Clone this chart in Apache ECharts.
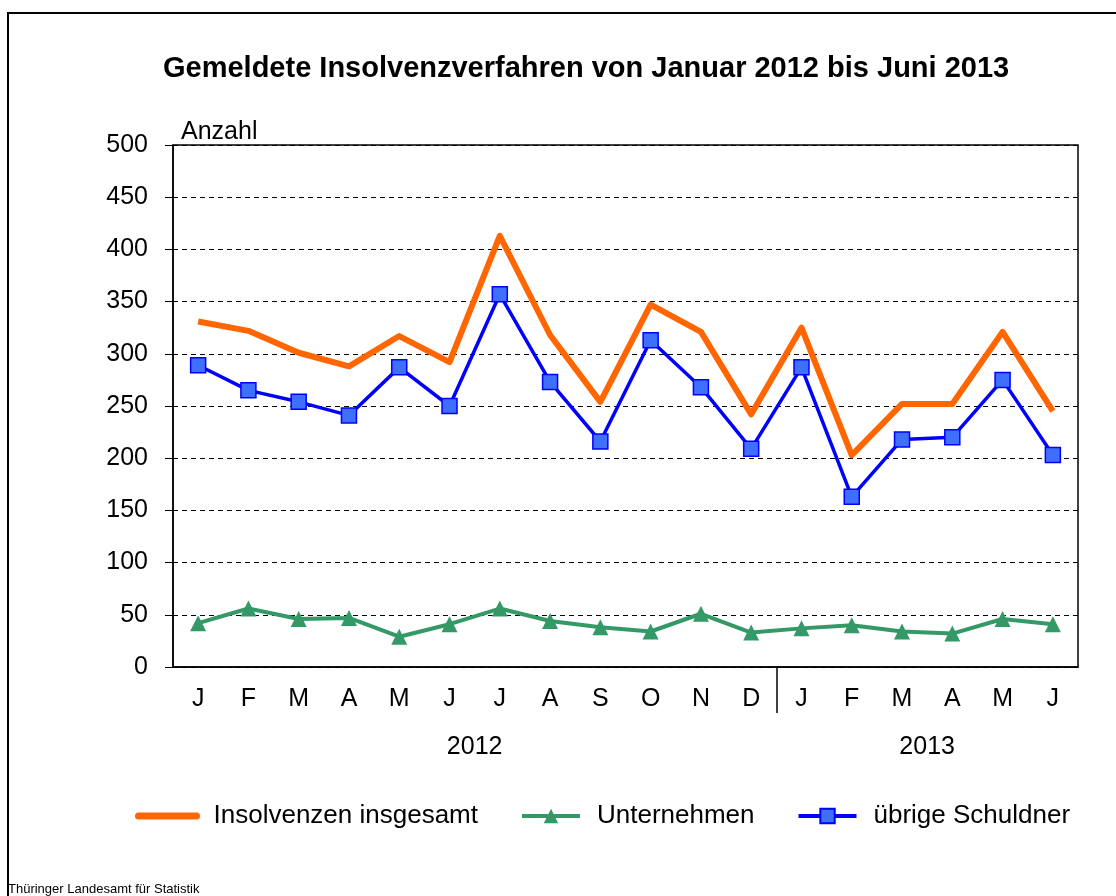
<!DOCTYPE html>
<html>
<head>
<meta charset="utf-8">
<title>Insolvenzverfahren</title>
<script src="https://cdn.jsdelivr.net/npm/echarts@6/dist/echarts.min.js"></script>
<style>
html, body { margin: 0; padding: 0; background: #fff; }
#chart { width: 1116px; height: 896px; }
</style>
</head>
<body>
<div id="chart"></div>
<script type="text/javascript">
// Monate (Jan 2012 - Jun 2013)
var months = ['J', 'F', 'M', 'A', 'M', 'J', 'J', 'A', 'S', 'O', 'N', 'D', 'J', 'F', 'M', 'A', 'M', 'J'];
var years = ['2012', '2013'];
// Werte
var insgesamt = [331, 322, 301, 288, 317, 292, 413, 318, 254, 347, 321, 242, 325, 203, 252, 252, 321, 245];
var unternehmen = [42, 56, 46, 47, 29, 41, 56, 44, 38, 34, 51, 33, 37, 40, 34, 32, 46, 41];
var schuldner = [289, 265, 254, 241, 287, 250, 357, 273, 216, 313, 268, 209, 287, 163, 218, 220, 275, 203];

var font = 'Liberation Sans, Arial, sans-serif';
var chart = echarts.init(document.getElementById('chart'));

var option = {
	animation: false,
	title: {
		text: 'Gemeldete Insolvenzverfahren von Januar 2012 bis Juni 2013',
		left: 158,
		top: 49,
		textStyle: { fontFamily: font, fontSize: 29, fontWeight: 'bold', color: '#000' }
	},
	legend: {
		bottom: 62,
		left: 130,
		itemWidth: 58,
		itemHeight: 18,
		itemGap: 42,
		textStyle: { fontFamily: font, fontSize: 26, color: '#000', padding: [0, 0, 0, 12] },
		data: [
			{ name: 'Insolvenzen insgesamt', itemStyle: { opacity: 0 }, lineStyle: { width: 7, cap: 'round' } },
			{ name: 'Unternehmen', lineStyle: { width: 4 } },
			{ name: 'übrige Schuldner', lineStyle: { width: 4 } }
		]
	},
	graphic: [
		{
			type: 'rect',
			shape: { x: 8, y: 13, width: 1200, height: 1000 },
			style: { fill: 'none', stroke: '#000', lineWidth: 2 },
			silent: true
		},
		{
			type: 'text',
			left: 8,
			bottom: 0,
			style: { text: 'Thüringer Landesamt für Statistik', font: '13px ' + font, fill: '#000' }
		}
	],
	grid: {
		left: 173,
		right: 38,
		top: 145,
		bottom: 229,
		show: true,
		borderColor: '#000',
		borderWidth: 1.5
	},
	xAxis: [
		{
			type: 'category',
			data: months,
			boundaryGap: true,
			axisLine: { lineStyle: { color: '#000', width: 1.5 } },
			axisTick: { show: false },
			axisLabel: { fontFamily: font, fontSize: 25, color: '#000', margin: 20 }
		},
		{
			type: 'value',
			position: 'bottom',
			min: 0,
			max: 18,
			axisLine: { show: false },
			splitLine: { show: false },
			axisTick: { show: true, customValues: [12], length: 46, lineStyle: { color: '#000', width: 1.5 } },
			axisLabel: {
				customValues: [6, 15],
				fontFamily: font, fontSize: 25, color: '#000', margin: 68,
				formatter: function (v) { return v < 12 ? years[0] : years[1]; }
			}
		}
	],
	yAxis: {
		type: 'value',
		min: 0,
		max: 500,
		interval: 50,
		name: 'Anzahl',
		nameLocation: 'end',
		nameGap: 0,
		nameTextStyle: { fontFamily: font, fontSize: 25, color: '#000', align: 'left', padding: [0, 0, 0, 8] },
		axisLine: { show: true, lineStyle: { color: '#000', width: 1.5 } },
		axisTick: { show: true, inside: false, length: 8, lineStyle: { color: '#000' } },
		axisLabel: { fontFamily: font, fontSize: 25, color: '#000', margin: 25 },
		splitLine: { show: true, lineStyle: { color: '#000', type: [5, 4], width: 1 } }
	},
	series: [
		{
			name: 'Insolvenzen insgesamt',
			type: 'line',
			data: insgesamt,
			symbol: 'none',
			z: 2,
			lineStyle: { color: '#FF6600', width: 6, join: 'round' },
			itemStyle: { color: '#FF6600' }
		},
		{
			name: 'Unternehmen',
			type: 'line',
			data: unternehmen,
			symbol: 'triangle',
			symbolSize: 16,
			z: 3,
			lineStyle: { color: '#339966', width: 4 },
			itemStyle: { color: '#339966', borderWidth: 0 }
		},
		{
			name: 'übrige Schuldner',
			type: 'line',
			data: schuldner,
			symbol: 'rect',
			symbolSize: 15,
			z: 4,
			lineStyle: { color: '#0000FF', width: 3.5 },
			itemStyle: { color: '#3F6FFF', borderColor: '#0000FF', borderWidth: 1.5, opacity: 1 }
		}
	]
};
chart.setOption(option);
</script>
</body>
</html>
